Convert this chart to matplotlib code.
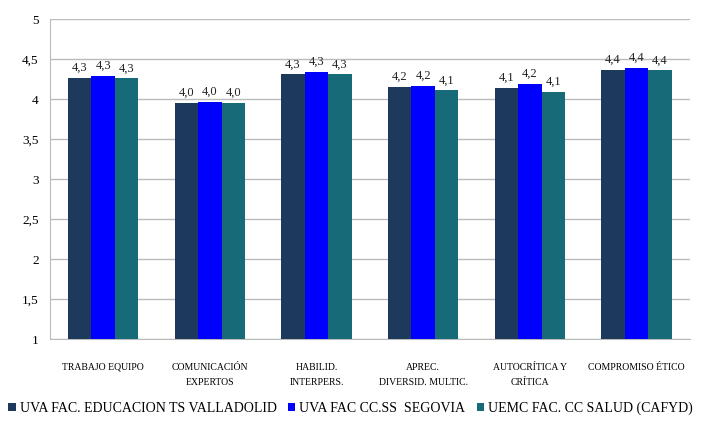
import numpy as np
import matplotlib.pyplot as plt
from matplotlib.ticker import FuncFormatter

plt.rcParams['font.family'] = ['Liberation Serif', 'DejaVu Serif']

categories = ['TRABAJO EQUIPO', 'COMUNICACIÓN\nEXPERTOS', 'HABILID.\nINTERPERS.',
              'APREC.\nDIVERSID. MULTIC.', 'AUTOCRÍTICA Y\nCRÍTICA', 'COMPROMISO ÉTICO']
series_names = ['UVA FAC. EDUCACION TS VALLADOLID', 'UVA FAC CC.SS  SEGOVIA',
                'UEMC FAC. CC SALUD (CAFYD)']
valladolid = [4.27, 3.95, 4.31, 4.15, 4.14, 4.37]
segovia = [4.29, 3.97, 4.34, 4.17, 4.19, 4.39]
uemc = [4.26, 3.95, 4.31, 4.11, 4.09, 4.36]
colors = ['#1d3a5c', '#0000ff', '#176a78']

fig = plt.figure(figsize=(7.01, 4.36), dpi=100)
ax = fig.add_axes([0.071, 0.222, 0.913, 0.734])

x = np.arange(len(categories))
w = 0.22
for i, (vals, name, c) in enumerate(zip([valladolid, segovia, uemc], series_names, colors)):
    pos = x + (i - 1) * w
    ax.bar(pos, np.array(vals) - 1, bottom=1, width=w, color=c, label=name, zorder=3)
    for p, v in zip(pos, vals):
        ax.text(p, v + 0.05, f'{v:.1f}'.replace('.', ','), ha='center', va='bottom',
                fontsize=9, color='#222222')

ax.set_ylim(1, 5)
ax.set_xlim(-0.5, 5.5)
ax.set_yticks(np.arange(1, 5.01, 0.5))
ax.yaxis.set_major_formatter(FuncFormatter(lambda v, _: f'{v:g}'.replace('.', ',')))
ax.tick_params(axis='y', length=0, labelsize=9.5, pad=8)
ax.set_xticks(x)
ax.set_xticklabels(categories, fontsize=7, linespacing=1.9)
ax.tick_params(axis='x', length=0, pad=17)
ax.grid(axis='y', color='#bbbbbb', linewidth=1, zorder=0)
for s in ['top', 'right']:
    ax.spines[s].set_visible(False)
ax.spines['left'].set_color('#bbbbbb')
ax.spines['bottom'].set_color('#bbbbbb')

fig.legend(loc='lower center', bbox_to_anchor=(0.5, 0.02), ncol=3, frameon=False,
           fontsize=10, handlelength=0.55, handleheight=0.55, handletextpad=0.3,
           columnspacing=0.8)

fig.savefig('out.png', dpi=100)
